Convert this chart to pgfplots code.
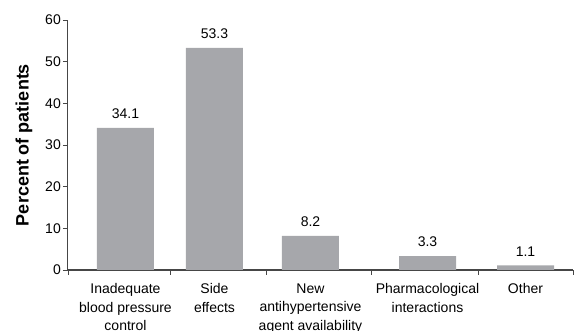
\documentclass[border=0pt]{standalone}
\usepackage{pgfplots}
\pgfplotsset{compat=1.18}
\usepackage{fontspec}
\setmainfont{Liberation Sans}
\definecolor{bargray}{RGB}{166,167,171}
\definecolor{axgray}{RGB}{70,70,70}
\begin{document}
\begin{tikzpicture}
\begin{axis}[
  anchor=origin, at={(0pt,0pt)},
  x=1pt, y=4.1667pt,
  xmin=0, xmax=505, ymin=0, ymax=60,
  axis x line*=bottom, axis y line*=left,
  axis line style={axgray, line width=1pt},
  x axis line style={line width=1.3pt},
  ytick={0,10,...,60},
  xtick={0,102,198,303,410,505},
  xticklabels={},
  tick align=outside,
  major tick length=5pt,
  tick style={axgray, line width=0.8pt},
  yticklabel style={font=\fontsize{14}{16}\selectfont, text=black, inner sep=2pt},
  /pgf/number format/assume math mode=true,
  extra x ticks={57.5,146.5,242.5,359.5,457.5},
  extra x tick labels={Inadequate\\blood pressure\\control, Side\\effects, New\\antihypertensive\\agent availability, Pharmacological\\interactions, Other},
  extra x tick style={major tick length=0pt, tick label style={align=center, font=\fontsize{14}{18.5}\selectfont, text=black, anchor=north, yshift=-10pt}},
  ylabel={Percent of patients},
  every axis y label/.style={at={(axis description cs:0,0.5)}, xshift=-44pt, rotate=90, anchor=center, font=\fontsize{18}{20}\selectfont\bfseries},
  clip=false,
]
\addplot[ybar, bar width=57pt, fill=bargray, draw=none,
  nodes near coords,
  nodes near coords style={font=\fontsize{14}{16}\selectfont, text=black, anchor=south, inner sep=0pt, yshift=9pt, /pgf/number format/fixed, /pgf/number format/fixed zerofill, /pgf/number format/precision=1, /pgf/number format/assume math mode=true}
] coordinates {(57.5,34.1) (146.5,53.3) (242.5,8.2) (359.5,3.3) (457.5,1.1)};
\end{axis}
\pgfresetboundingbox
\path (-68pt,-61pt) rectangle (506pt,270pt);
\end{tikzpicture}
\end{document}
